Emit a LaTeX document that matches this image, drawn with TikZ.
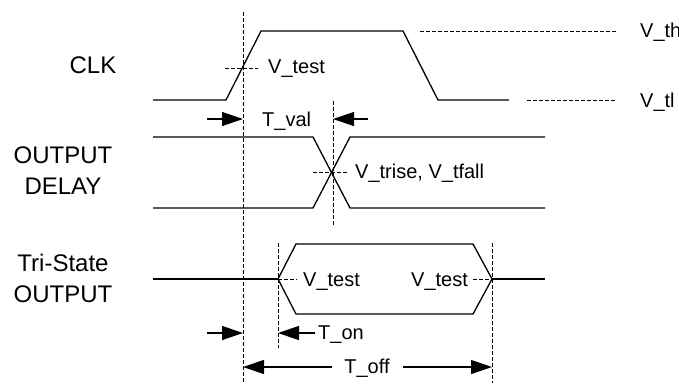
\documentclass[tikz,border=0pt]{standalone}
\usepackage{fontspec}
\setmainfont{Liberation Sans}
\usetikzlibrary{arrows.meta,positioning}

\tikzset{
  wave/.style={line width=1.3pt},
  guide/.style={line width=1pt, dash pattern=on 4pt off 2pt},
  dim/.style={line width=1.3pt, -{Triangle[length=21pt,width=14pt]}},
  signame/.style={font=\fontsize{24}{31}\selectfont, align=center, inner sep=0pt},
  lvl/.style={font=\fontsize{20}{24}\selectfont, inner sep=0pt, anchor=base west},
}

\begin{document}
\begin{tikzpicture}[x=1pt,y=-1pt]
  \useasboundingbox (0,0) rectangle (679,383);

  % signal names
  \node[signame,anchor=base] (clk) at (93,73)  {CLK};
  \node[signame]             (od)  at (63,171) {OUTPUT\\DELAY};
  \node[signame]             (ts)  at (63,278) {Tri-State\\OUTPUT};

  % waveforms
  \draw[wave] (153,100) -- (226,100) -- (261,31) -- (403,31) -- (438,100) -- (509,100);
  \draw[wave] (153,137) -- (313,137) -- (350,208) -- (545,208);
  \draw[wave] (153,208) -- (313,208) -- (350,137) -- (545,137);
  \draw[wave] (153,279) -- (278,279);
  \draw[wave] (278,279) -- (296,244) -- (473,244) -- (492,279) -- (473,314) -- (296,314) -- cycle;
  \draw[wave] (492,279) -- (545,279);

  % timing references
  \coordinate (clkT)  at (243,12);
  \coordinate (clkB)  at (243,383);
  \coordinate (valT)  at (333,101);
  \coordinate (valB)  at (333,226);
  \coordinate (onT)   at (278,243);
  \coordinate (onB)   at (278,348);
  \coordinate (offT)  at (492,243);
  \coordinate (offB)  at (492,383);
  \draw[guide] (clkT) -- (clkB);
  \draw[guide] (valT) -- (valB);
  \draw[guide] (onT) -- (onB);
  \draw[guide] (offT) -- (offB);

  % level markers
  \draw[guide] (225,68) -- (258,68);
  \draw[guide] (313,172) -- (347,172);
  \draw[guide] (278,279) -- (297,279);
  \draw[guide] (473,279) -- (492,279);
  \draw[guide] (420,31) -- (617,31);
  \draw[guide] (527,100) -- (617,100);

  \node[lvl] (vtest1) at (268,73)  {V\_test};
  \node[lvl] (vtr)    at (355,178) {V\_trise, V\_tfall};
  \node[lvl] (vtest2) at (303,286) {V\_test};
  \node[lvl] (vtest3) at (411,286) {V\_test};
  \node[lvl] (vth)    at (640,37)  {V\_th};
  \node[lvl] (vtl)    at (640,107) {V\_tl};

  % dimensions
  \coordinate (valL) at (207,119);
  \coordinate (valR) at (368,119);
  \coordinate (onL)  at (207,333);
  \coordinate (onR)  at (315,333);
  \coordinate (offL) at (332,367);
  \coordinate (offR) at (403,367);
  \draw[dim] (valL) -- (valL -| clkT);
  \draw[dim] (valR) -- (valR -| valT);
  \node[lvl] (tval) at (262,126) {T\_val};
  \draw[dim] (onL) -- (onL -| clkT);
  \draw[dim] (onR) -- (onR -| onT);
  \node[lvl] (ton) at (318,339) {T\_on};
  \draw[dim] (offL) -- (offL -| clkT);
  \draw[dim] (offR) -- (offR -| offT);
  \node[lvl,anchor=base] (toff) at (367,373) {T\_off};
\end{tikzpicture}
\end{document}
